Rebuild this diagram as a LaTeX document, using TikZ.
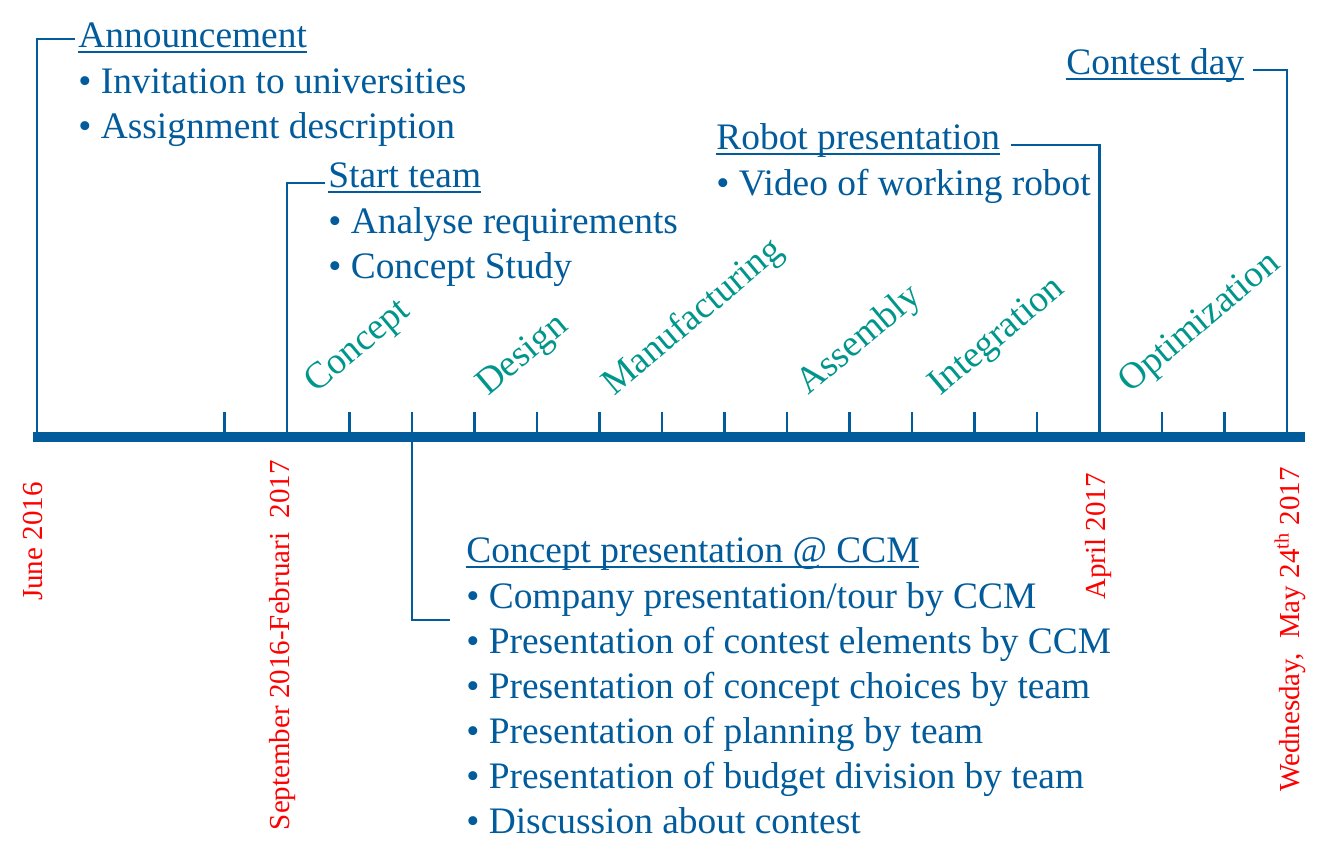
\documentclass[tikz,border=0pt]{standalone}
\usepackage{fontspec}
\setmainfont{Liberation Serif}
\usepackage{tikz}
\usetikzlibrary{positioning}
\definecolor{lineblue}{RGB}{2,92,156}
\definecolor{phaseteal}{RGB}{0,150,140}
\definecolor{datered}{RGB}{255,0,0}
\newsavebox{\headbox}
\newcommand{\headul}[1]{\sbox{\headbox}{#1}\rlap{\rule[-2.5pt]{\wd\headbox}{1pt}}\usebox{\headbox}}

\begin{document}
\begin{tikzpicture}[x=0.5pt, y=0.5pt,
    heading/.style={anchor=base west, inner xsep=1.5pt, inner ysep=0pt, text=lineblue, font=\fontsize{18.7}{22.5}\selectfont},
    itemlist/.style={anchor=north west, inner xsep=1.5pt, inner ysep=0pt, align=left, text=lineblue, font=\fontsize{18.7}{22.5}\selectfont},
    phase/.style={rotate=40, anchor=base west, inner sep=0pt, text=phaseteal, font=\fontsize{18.7}{22.5}\selectfont},
    date/.style={rotate=90, anchor=east, inner sep=0pt, text=datered, font=\fontsize{14.5}{17}\selectfont},
    axis/.style={draw=lineblue, line width=5pt},
    tick/.style={draw=lineblue, line width=1.1pt},
    link/.style={draw=lineblue, line width=1.1pt}
]
\useasboundingbox (0,0) rectangle (1322,866);

% time axis
\coordinate (axisL) at (33,428.5);
\coordinate (axisR) at (1305,428.5);
\foreach \k in {0,3,4,...,20}
    \coordinate (t\k) at ({37+62.5*\k},428.5);
\foreach \k in {3,...,19}
    \draw[tick] (t\k) -- ++(0,25.5);

% milestones
\node[heading] (annhead) at (75,818) {\headul{Announcement}\strut};
\node[itemlist, below=0pt of annhead.south west, anchor=north west] (annlist)
    {\strut\textbullet\ Invitation to universities\\ \textbullet\ Assignment description};

\node[heading] (starthead) at (325,678) {\headul{Start team}\strut};
\node[itemlist, below=0pt of starthead.south west, anchor=north west] (startlist)
    {\strut\textbullet\ Analyse requirements\\ \textbullet\ Concept Study};

\node[heading] (ccmhead) at (463,303) {\headul{Concept presentation @ CCM}\strut};
\node[itemlist, below=0pt of ccmhead.south west, anchor=north west] (ccmlist)
    {\strut\textbullet\ Company presentation/tour by CCM\\
     \textbullet\ Presentation of contest elements by CCM\\
     \textbullet\ Presentation of concept choices by team\\
     \textbullet\ Presentation of planning by team\\
     \textbullet\ Presentation of budget division by team\\
     \textbullet\ Discussion about contest};
\coordinate (ccmend) at (450,246);

\node[heading] (robothead) at (713,716) {\headul{Robot presentation}\strut};
\node[itemlist, below=0pt of robothead.south west, anchor=north west] (robotlist)
    {\strut\textbullet\ Video of working robot};

\node[heading] (contesthead) at (1063,791) {\headul{Contest day}\strut};

% phases
\node[phase] (concept) at (316,472) {Concept};
\node[phase] (design) at (488,469) {Design};
\node[phase] (manuf) at (614,469) {Manufacturing};
\node[phase] (assembly) at (808,470) {Assembly};
\node[phase] (integr) at (940,469) {Integration};
\node[phase] (optim) at (1130,472) {Optimization};

% dates
\node[date] (june) at (33,384) {June 2016};
\node[date] (septfeb) at (283,406) {September 2016-Februari~ 2017};
\node[date] (april) at (1099,393) {April 2017};
\node[date] (contestdate) at (1290,399) {Wednesday,~ May 24\textsuperscript{th} 2017};

% connectors
\draw[link] (t0) |- (annhead.west);
\draw[link] (t4) |- ([yshift=-2pt]starthead.west);
\draw[link] (t6) |- (ccmend);
\draw[link] (t17) |- ([xshift=4pt,yshift=-2pt]robothead.east);
\draw[link] (t20) |- ([xshift=3pt,yshift=-2pt]contesthead.east);

\draw[axis] (axisL) -- (axisR);

\end{tikzpicture}
\end{document}
